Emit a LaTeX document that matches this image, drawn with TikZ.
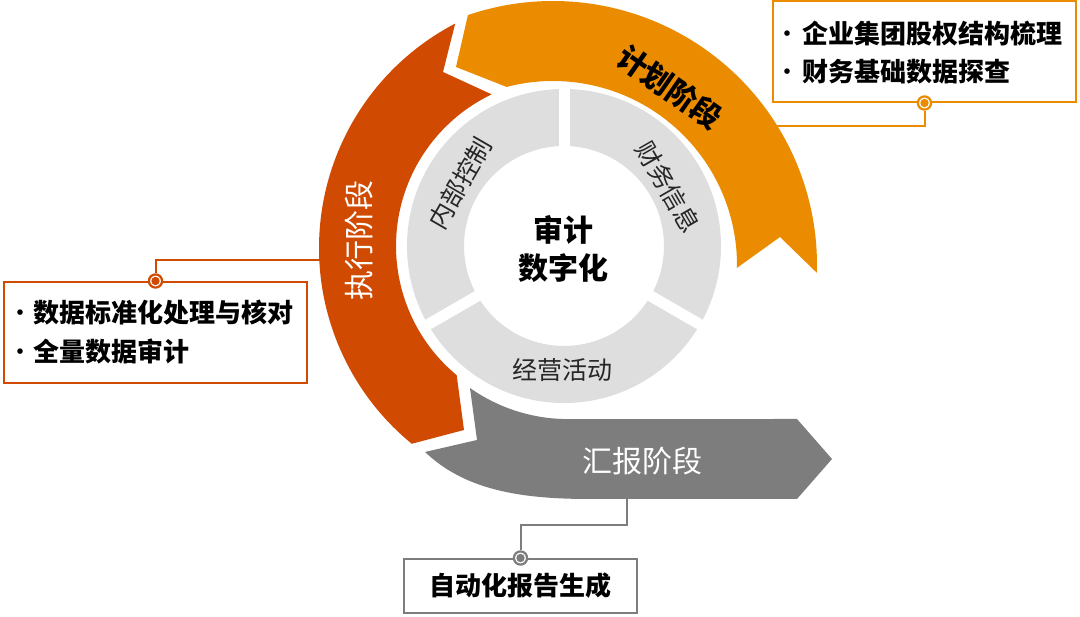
\documentclass[tikz,border=0pt]{standalone}
\usepackage{fontspec}
\setmainfont{Noto Sans CJK SC}
\usetikzlibrary{calc}
\definecolor{corange}{HTML}{EB8C00}
\definecolor{cred}{HTML}{D04A02}
\definecolor{cgray}{HTML}{7D7D7D}
\definecolor{cring}{HTML}{DEDEDE}
\definecolor{ctext}{HTML}{262626}
\begin{document}
\begin{tikzpicture}[x=1pt,y=1pt,
  boxstyle/.style={draw, line width=2pt, fill=white, rectangle, inner sep=0pt},
  boxtxt/.style={anchor=base west, inner sep=0pt, font=\bfseries\fontsize{26}{30}\selectfont, text=black},
  bulletdot/.style={anchor=base, inner sep=0pt, font=\fontsize{26}{30}\selectfont, text=black},
  stagelbl/.style={inner sep=0pt, font=\fontsize{30}{36}\selectfont},
  ringlbl/.style={inner sep=0pt, font=\fontsize{25}{30}\selectfont, text=ctext},
  conn/.style={line width=2pt},
  marker/.style={circle, draw=#1, line width=2.2pt, fill=white, minimum size=13.2pt, inner sep=0pt},
]
\useasboundingbox (0,0) rectangle (1080,617);
\fill[white] (0,0) rectangle (1080,617);

\coordinate (O) at (553,352);
\coordinate (R) at (572,369);
\coordinate (G) at (564,371);

% boxes
\node[boxstyle, draw=corange, minimum width=303pt, minimum height=101pt] (rbox) at (924.5,565.5) {};
\node[boxstyle, draw=cred, minimum width=303pt, minimum height=101pt] (lbox) at (155.5,284.5) {};
\node[boxstyle, draw=cgray, minimum width=233pt, minimum height=54pt] (bbox) at (520.5,31) {};

% markers
\node[marker=corange] (rmk) at (rbox.south) {};
\node[marker=cred] (lmk) at (lbox.north) {};
\node[marker=cgray] (bmk) at (bbox.north) {};
\fill[corange] (rmk.center) circle[radius=4.2pt];
\fill[cred] (lmk.center) circle[radius=4.2pt];
\fill[cgray] (bmk.center) circle[radius=4.2pt];

% connector end points
\coordinate (rend) at (760,491);
\coordinate (lend) at (335,357);
\coordinate (bstart) at (627,130);
\coordinate (bturn) at (627,92);

\draw[conn, corange] (rmk) |- (rend);
\draw[conn, cred] (lmk) |- (lend);
\draw[conn, cgray] (bstart) -- (bturn) -| (bmk);

% orange stage arrow
\fill[corange] ($(O)+(-1.7:264)$) arc[start angle=-1.7, end angle=108.8, radius=264pt]
  -- (456,550) -- ($(O)+(104.6:184)$) arc[start angle=104.6, end angle=-0.9, radius=184pt]
  -- (780,380) -- cycle;

% red stage arrow
\fill[cred] ($(R)+(117.5:253)$) arc[start angle=117.5, end angle=230.7, radius=253pt]
  -- (464,187) -- ($(G)+(230.3:168)$) arc[start angle=230.3, end angle=115.5, radius=168pt]
  -- (443,545) -- cycle;

% gray stage arrow
\fill[cgray] (470,229) arc[start angle=234.8, end angle=270, radius=170pt]
  -- (797,198) -- (832,158) -- (797,118) -- (590,118)
  .. controls (520,118) and (465,127) .. (425,165) -- (477,177) -- cycle;

% inner ring
\fill[cring, even odd rule] (G) circle[radius=157pt] (G) circle[radius=100pt];
\foreach \a in {90,210,330}
  \draw[white, line width=11pt] ($(G)+(\a:94)$) -- ($(G)+(\a:161)$);

% labels
\node[stagelbl, text=black, font=\bfseries\fontsize{30}{36}\selectfont, rotate=-35] (plan) at (670,530) {计划阶段};
\node[stagelbl, text=white, rotate=90] (exec) at (359,376) {执行阶段};
\node[stagelbl, text=white] (report) at (642,156) {汇报阶段};
\node[ringlbl, rotate=60] (ic) at (460,434) {内部控制};
\node[ringlbl, rotate=-60] (fi) at (668,430) {财务信息};
\node[ringlbl] (op) at (562,247) {经营活动};
\node[align=center, inner sep=0pt, font=\bfseries\fontsize{30}{38}\selectfont, text=black] (core) at (563,368) {审计\\数字化};

% box texts
\node[bulletdot] (rb1) at (787,573.8) {•};
\node[boxtxt] (rt1) at (802,573.8) {企业集团股权结构梳理};
\node[bulletdot] (rb2) at (787,535.4) {•};
\node[boxtxt] (rt2) at (802,535.4) {财务基础数据探查};
\node[bulletdot] (lb1) at (20,294.1) {•};
\node[boxtxt] (lt1) at (33,294.1) {数据标准化处理与核对};
\node[bulletdot] (lb2) at (20,255.1) {•};
\node[boxtxt] (lt2) at (33,255.1) {全量数据审计};
\node[inner sep=0pt, font=\bfseries\fontsize{26}{30}\selectfont, text=black] (bt) at (bbox.center) {自动化报告生成};
\end{tikzpicture}
\end{document}
